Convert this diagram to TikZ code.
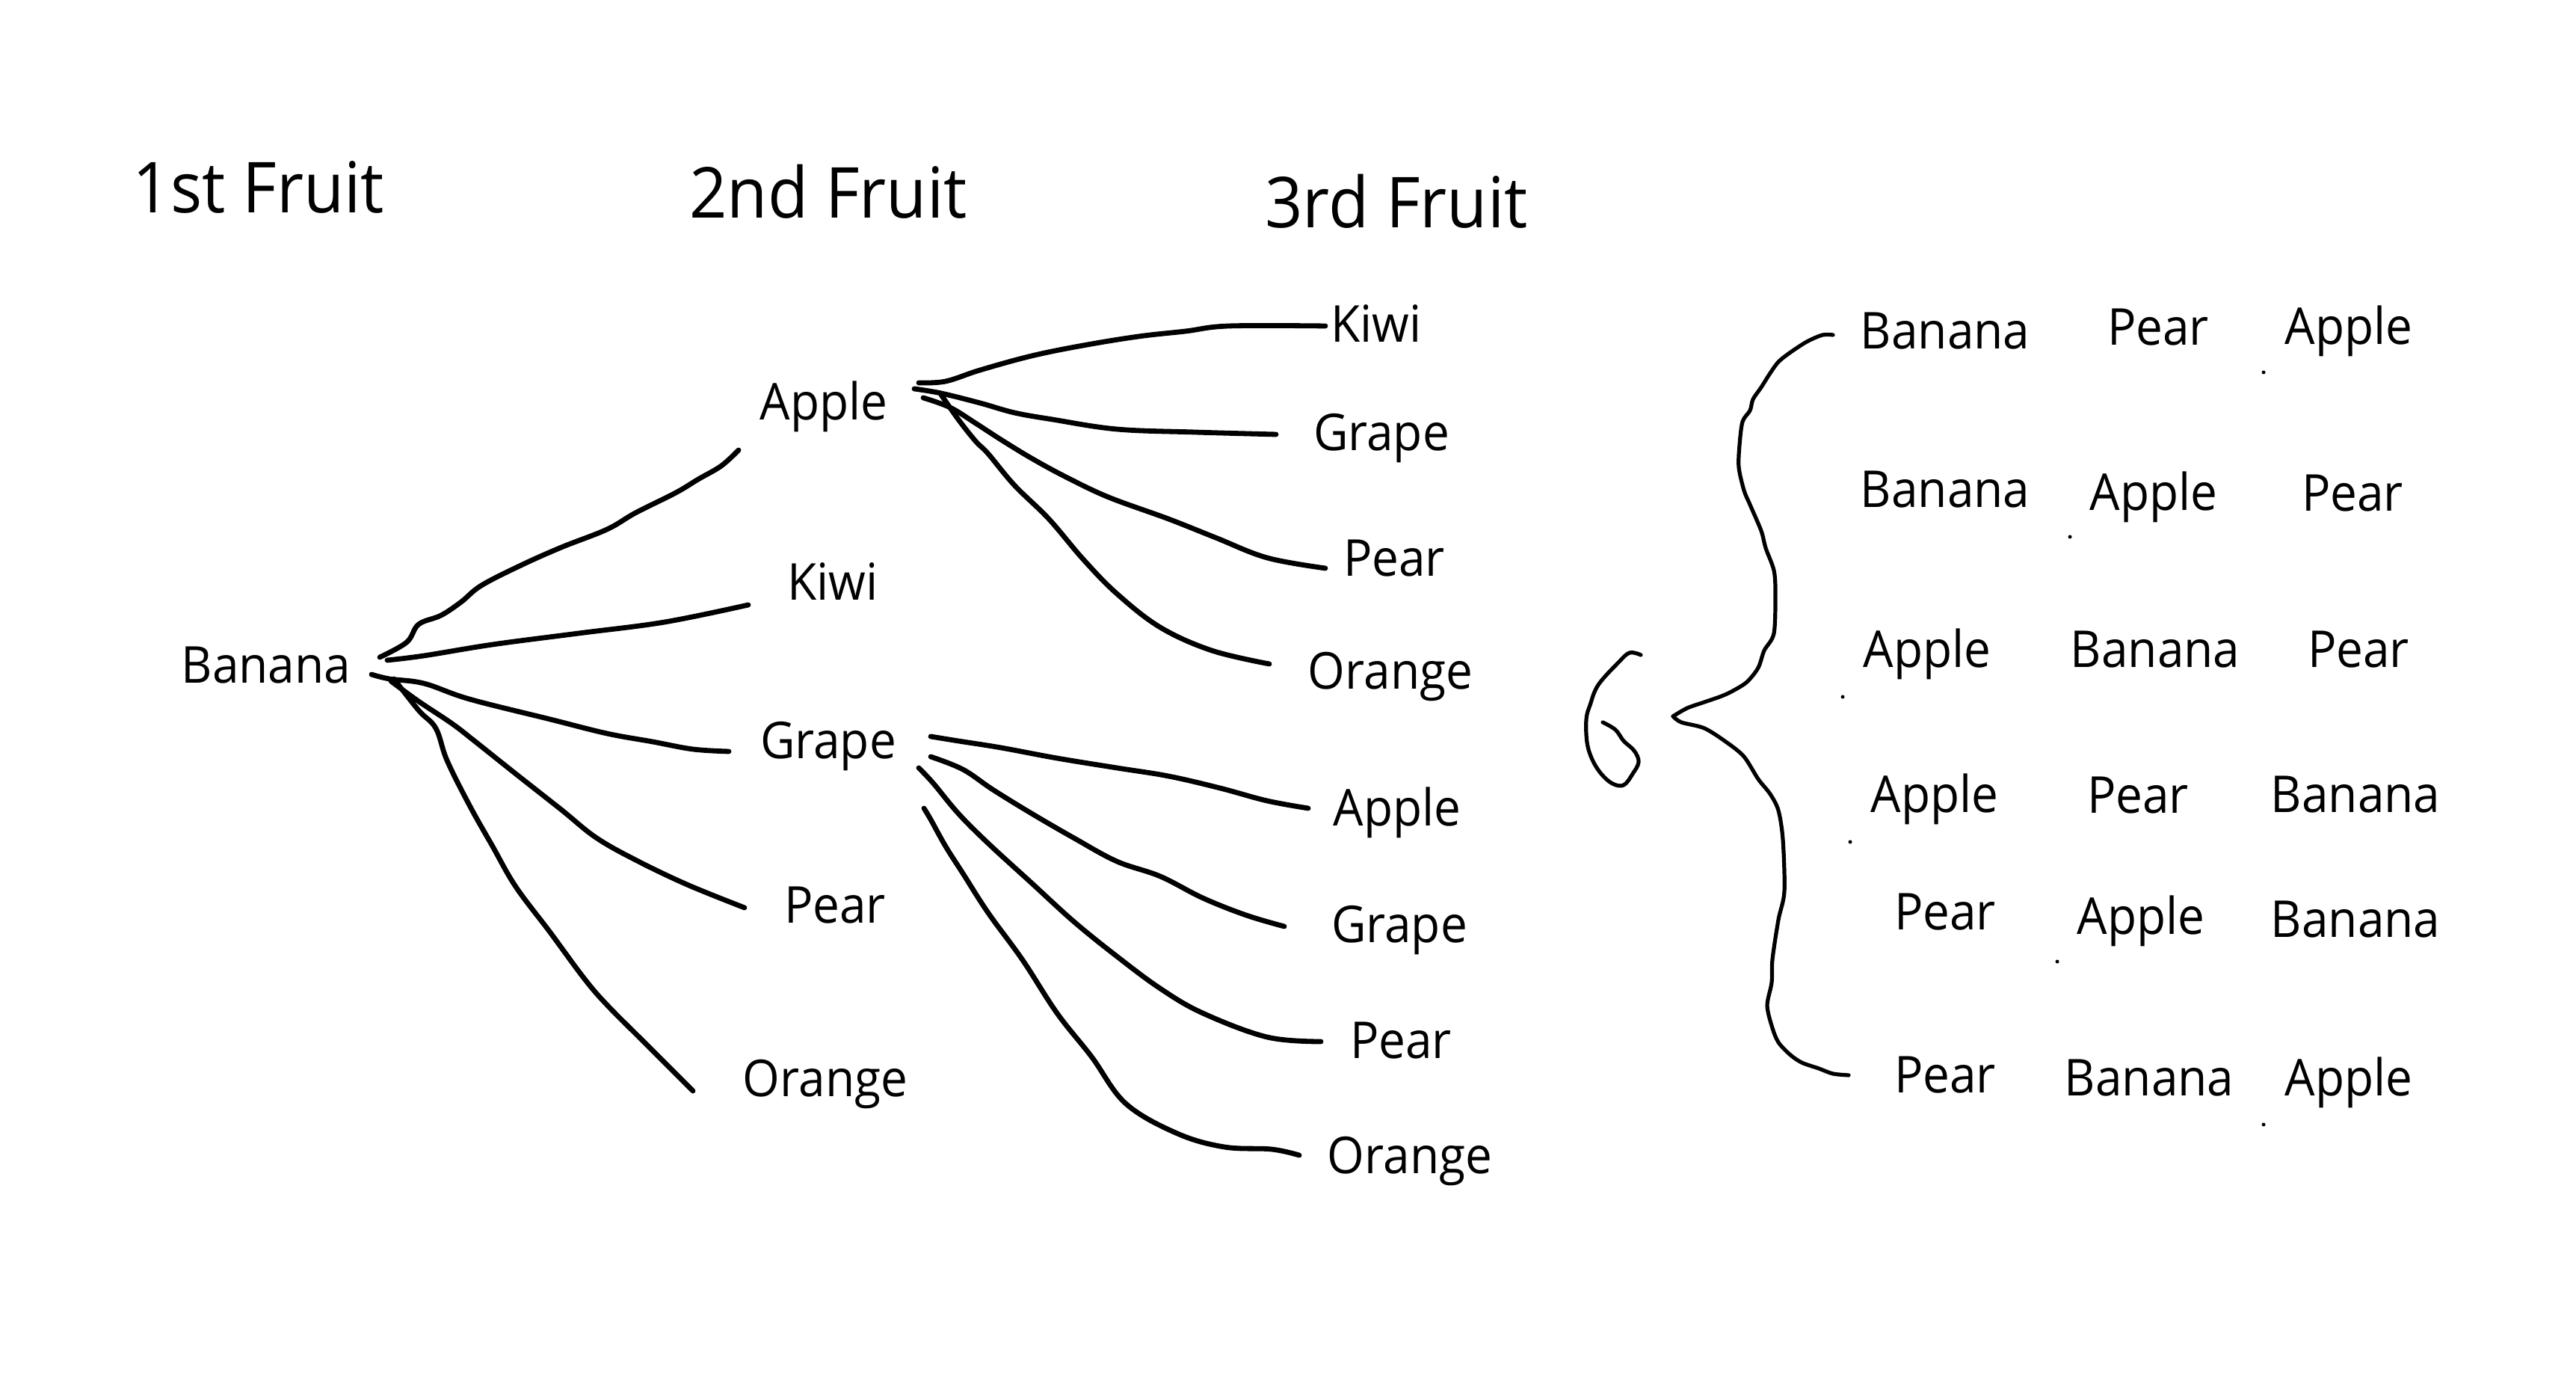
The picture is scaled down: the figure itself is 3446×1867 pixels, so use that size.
\documentclass[tikz,border=0pt]{standalone}
\usepackage{fontspec}
\setmainfont{Open Sans}[FakeStretch=0.94]
\tikzset{
  lbl/.style={font=\fontsize{6.8}{8}\selectfont, anchor=base, inner sep=0pt},
  hdr/.style={font=\fontsize{9.4}{11}\selectfont, anchor=base, inner sep=0pt},
  branch/.style={line width=0.68pt, line cap=round, line join=round},
  bracestroke/.style={line width=0.52pt, line cap=round, line join=round},
  speck/.style={fill=black},
}
\begin{document}
\begin{tikzpicture}[x=0.1pt,y=-0.1pt]
\useasboundingbox (0,0) rectangle (3446,1867);
\fill[white] (0,0) rectangle (3446,1867);

% headers
\node[hdr] (h1) at (346,285) {1st Fruit};
\node[hdr] (h2) at (1108,292) {2nd Fruit};
\node[hdr] (h3) at (1868,305) {3rd Fruit};

% tree labels
\node[lbl] (banana) at (356,914) {Banana};
\node[lbl] (apple2) at (1102,562) {Apple};
\node[lbl] (kiwi2) at (1114,803) {Kiwi};
\node[lbl] (grape2) at (1108,1015) {Grape};
\node[lbl] (pear2) at (1117,1235) {Pear};
\node[lbl] (orange2) at (1104,1467) {Orange};
\node[lbl] (akiwi) at (1841,458) {Kiwi};
\node[lbl] (agrape) at (1848,603) {Grape};
\node[lbl] (apear) at (1865,771) {Pear};
\node[lbl] (aorange) at (1860,922) {Orange};
\node[lbl] (gapple) at (1869,1105) {Apple};
\node[lbl] (ggrape) at (1872,1261) {Grape};
\node[lbl] (gpear) at (1874,1416) {Pear};
\node[lbl] (gorange) at (1886,1570) {Orange};

% Banana branches
\coordinate (b1s) at (508,879); \coordinate (b1e) at (988,602);
\draw[branch] plot[smooth,tension=0.6] coordinates {(b1s) (544,859) (560,835) (590,823) (617,805) (644,783) (697,756) (751,732) (812,708) (850,686) (904,659) (934,641) (965,623) (b1e)};
\coordinate (b2s) at (518,883); \coordinate (b2e) at (1001,809);
\draw[branch] plot[smooth,tension=0.6] coordinates {(b2s) (567,877) (659,862) (774,847) (889,832) (b2e)};
\coordinate (b3s) at (497,902); \coordinate (b3e) at (975,1005);
\draw[branch] plot[smooth,tension=0.6] coordinates {(b3s) (521,908) (567,914) (628,935) (736,962) (812,981) (873,992) (927,1002) (b3e)};
\coordinate (b4s) at (523,911); \coordinate (b4e) at (996,1214);
\draw[branch] plot[smooth,tension=0.6] coordinates {(b4s) (560,938) (605,968) (636,992) (690,1035) (751,1083) (797,1120) (850,1150) (919,1183) (b4e)};
\coordinate (b5s) at (527,908); \coordinate (b5e) at (927,1459);
\draw[branch] plot[smooth,tension=0.6] coordinates {(b5s) (560,950) (583,974) (598,1017) (628,1077) (659,1132) (690,1186) (736,1247) (781,1308) (812,1344) (866,1398) (b5e)};

% Apple branches
\coordinate (a1s) at (1229,512); \coordinate (a1e) at (1773,436);
\draw[branch] plot[smooth,tension=0.6] coordinates {(a1s) (1265,510) (1311,495) (1380,476) (1449,462) (1523,450) (1586,443) (1644,436) (a1e)};
\coordinate (a2s) at (1223,520); \coordinate (a2e) at (1707,581);
\draw[branch] plot[smooth,tension=0.6] coordinates {(a2s) (1259,526) (1311,539) (1357,552) (1408,561) (1494,574) (1598,578) (a2e)};
\coordinate (a3s) at (1235,532); \coordinate (a3e) at (1773,760);
\draw[branch] plot[smooth,tension=0.6] coordinates {(a3s) (1271,545) (1305,566) (1339,588) (1380,613) (1426,638) (1483,665) (1563,694) (1626,719) (1695,746) (a3e)};
\coordinate (a4s) at (1259,528); \coordinate (a4e) at (1698,888);
\draw[branch] plot[smooth,tension=0.6] coordinates {(a4s) (1282,561) (1305,590) (1322,607) (1357,649) (1403,694) (1449,748) (1494,794) (1552,839) (1621,870) (a4e)};

% Grape branches
\coordinate (g1s) at (1245,985); \coordinate (g1e) at (1750,1081);
\draw[branch] plot[smooth,tension=0.6] coordinates {(g1s) (1282,991) (1339,1000) (1414,1014) (1494,1027) (1563,1038) (1632,1054) (1695,1071) (g1e)};
\coordinate (g2s) at (1245,1012); \coordinate (g2e) at (1718,1239);
\draw[branch] plot[smooth,tension=0.6] coordinates {(g2s) (1288,1029) (1328,1056) (1380,1088) (1437,1121) (1494,1152) (1552,1172) (1609,1201) (1667,1224) (g2e)};
\coordinate (g3s) at (1229,1027); \coordinate (g3e) at (1767,1393);
\draw[branch] plot[smooth,tension=0.6] coordinates {(g3s) (1248,1047) (1282,1088) (1322,1128) (1380,1181) (1437,1233) (1494,1279) (1552,1322) (1609,1355) (1695,1387) (g3e)};
\coordinate (g4s) at (1236,1081); \coordinate (g4e) at (1738,1545);
\draw[branch] plot[smooth,tension=0.6] coordinates {(g4s) (1245,1096) (1265,1132) (1288,1168) (1322,1221) (1368,1284) (1414,1355) (1460,1413) (1506,1476) (1575,1516) (1638,1534) (1701,1537) (g4e)};

% hook and brace
\draw[bracestroke] plot[smooth,tension=0.6] coordinates {(2195,876) (2180,873) (2165,886) (2138,916) (2127,943) (2122,962) (2123,993) (2130,1016) (2142,1035) (2157,1048) (2172,1050) (2184,1035) (2192,1019) (2186,1004) (2172,991) (2161,976) (2144,966)};
\coordinate (brtop) at (2452,448); \coordinate (brtip) at (2238,958); \coordinate (brbot) at (2473,1438);
\draw[bracestroke] plot[smooth,tension=0.5] coordinates {(brtop) (2438,448) (2417,457) (2394,472) (2379,484) (2368,499) (2356,518) (2345,534) (2341,549) (2331,564) (2327,595) (2326,625) (2333,656) (2341,675) (2356,710) (2362,733) (2373,763) (2375,794) (2373,847) (2360,870) (2352,893) (2337,912) (2318,924) (2303,931) (2280,939) (2257,947) (brtip)};
\draw[bracestroke] plot[smooth,tension=0.5] coordinates {(brtip) (2249,966) (2280,974) (2310,993) (2333,1012) (2352,1042) (2368,1062) (2379,1084) (2385,1123) (2387,1192) (2379,1230) (2371,1283) (2370,1314) (2364,1345) (2371,1375) (2379,1394) (2394,1410) (2410,1421) (2433,1429) (2452,1436) (brbot)};

% right list
\node[lbl] (r1a) at (2602,467) {Banana};
\node[lbl] (r1b) at (2887,462) {Pear};
\node[lbl] (r1c) at (3142,461) {Apple};
\node[lbl] (r2a) at (2602,679) {Banana};
\node[lbl] (r2b) at (2881,683) {Apple};
\node[lbl] (r2c) at (3147,684) {Pear};
\node[lbl] (r3a) at (2578,893) {Apple};
\node[lbl] (r3b) at (2883,893) {Banana};
\node[lbl] (r3c) at (3155,893) {Pear};
\node[lbl] (r4a) at (2588,1087) {Apple};
\node[lbl] (r4b) at (2860,1088) {Pear};
\node[lbl] (r4c) at (3151,1087) {Banana};
\node[lbl] (r5a) at (2602,1244) {Pear};
\node[lbl] (r5b) at (2864,1250) {Apple};
\node[lbl] (r5c) at (3151,1254) {Banana};
\node[lbl] (r6a) at (2602,1462) {Pear};
\node[lbl] (r6b) at (2875,1466) {Banana};
\node[lbl] (r6c) at (3142,1466) {Apple};

% specks
\fill[speck] (3028,498) circle (0.25pt);
\fill[speck] (2769,718) circle (0.25pt);
\fill[speck] (2465,932) circle (0.25pt);
\fill[speck] (2475,1126) circle (0.25pt);
\fill[speck] (2752,1286) circle (0.25pt);
\fill[speck] (3028,1504) circle (0.25pt);
\end{tikzpicture}
\end{document}
